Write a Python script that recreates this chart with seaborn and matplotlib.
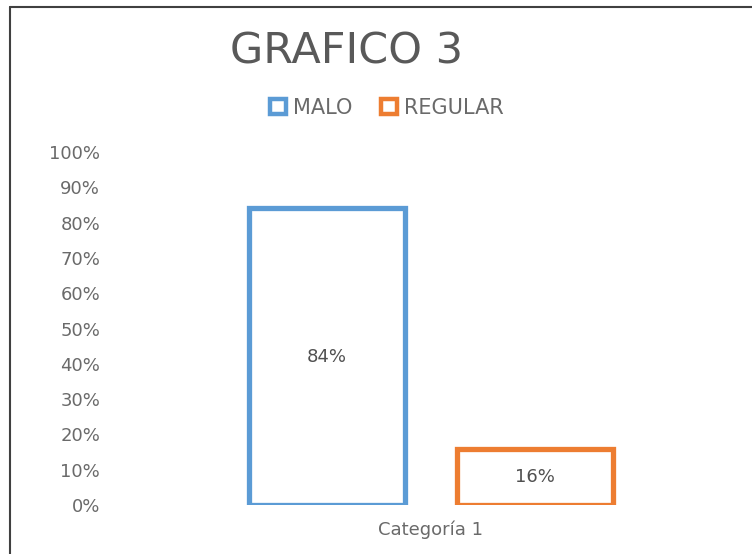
import matplotlib
matplotlib.use("Agg")
import matplotlib.pyplot as plt
import seaborn as sns
import pandas as pd
from matplotlib.lines import Line2D

# Datos del grafico
categorias = ["Categoría 1"]
series = ["MALO", "REGULAR"]
valores = [0.84, 0.16]
colores = ["#5B9BD5", "#ED7D31"]
ticks_y = [0, 0.1, 0.2, 0.3, 0.4, 0.5, 0.6, 0.7, 0.8, 0.9, 1.0]
etiquetas_y = ["0%", "10%", "20%", "30%", "40%", "50%", "60%", "70%", "80%", "90%", "100%"]

df = pd.DataFrame({
    "categoria": categorias * len(series),
    "serie": series,
    "valor": valores,
})

sns.set_style("white")
plt.rcParams['font.family'] = ['DejaVu Sans']

fig = plt.figure(figsize=(7.52, 5.54), dpi=100)
ax = fig.add_axes([171 / 752, 49 / 554, 520 / 752, 353 / 554])

sns.barplot(data=df, x="categoria", y="valor", hue="serie", palette=colores,
            fill=False, linewidth=3.8, gap=0.25, ax=ax, legend=True)

ax.set_ylim(0, 1)
ax.set_xlim(-0.5, 0.5)
ax.set_yticks(ticks_y)
ax.set_yticklabels(etiquetas_y)
ax.set_xlabel("")
ax.set_ylabel("")
for s in ax.spines.values():
    s.set_visible(False)
ax.tick_params(axis='y', length=0, pad=51, labelsize=13, labelcolor="#6a6a6a")
ax.tick_params(axis='x', length=0, pad=11, labelsize=13, labelcolor="#6a6a6a")

# Etiquetas de valor en el centro de cada barra
for cont in ax.containers:
    ax.bar_label(cont, labels=[f"{v * 100:.0f}%" for v in cont.datavalues],
                 label_type='center', fontsize=13, color="#505050")

# Leyenda
sns.move_legend(ax, "center", bbox_to_anchor=(387 / 752, 1 - 108 / 554),
                bbox_transform=fig.transFigure, ncol=2, frameon=False, title=None,
                prop={'size': 15}, handlelength=0.75, handleheight=0.75,
                handletextpad=0.35, columnspacing=1.4, labelcolor="#6a6a6a")
for h in ax.get_legend().legend_handles:
    h.set_linewidth(3.2)

fig.text(347 / 752, 1 - 52 / 554, "GRAFICO 3", ha="center", va="center",
         fontsize=31, color="#595959")

# Marco del area del grafico
fig.add_artist(Line2D([10 / 752, 1], [1 - 7 / 554, 1 - 7 / 554],
                      transform=fig.transFigure, color="#404040", linewidth=1.5))
fig.add_artist(Line2D([10 / 752, 10 / 752], [0, 1 - 7 / 554],
                      transform=fig.transFigure, color="#404040", linewidth=1.5))

fig.savefig("out.png", dpi=100)
